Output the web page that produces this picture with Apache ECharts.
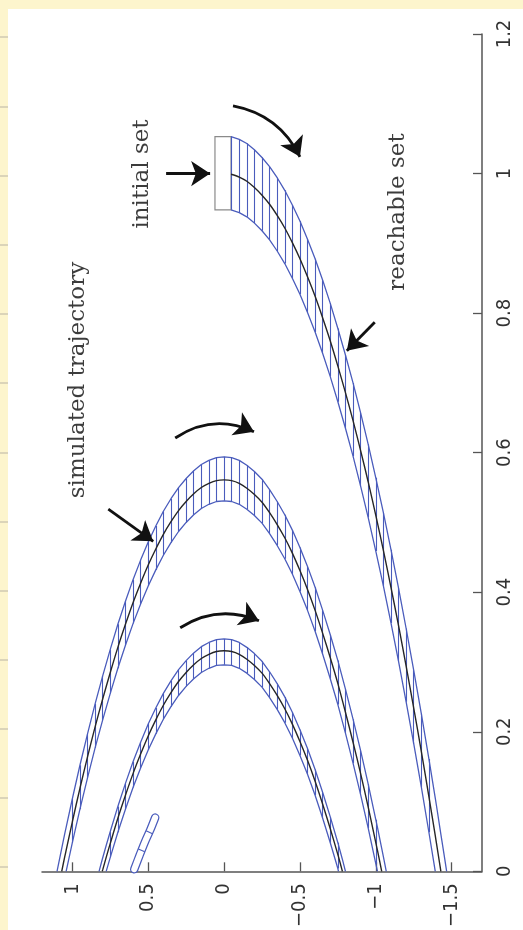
<!DOCTYPE html>
<html>
<head>
<meta charset="utf-8">
<script src="https://cdn.jsdelivr.net/npm/echarts@6/dist/echarts.min.js"></script>
<style>
html, body { margin: 0; padding: 0; background: #fff; }
#chart { width: 523px; height: 930px; }
</style>
</head>
<body>
<div id="chart"></div>
<script>
// rows: [u, inner edge, centre trajectory, outer edge]; u is the bottom axis, v the right axis
const band1 = [
	[-0.046, 0.948, 0.999, 1.053], [-0.10, 0.944, 0.995, 1.049], [-0.15, 0.938, 0.989, 1.043],
	[-0.20, 0.929, 0.980, 1.034], [-0.25, 0.918, 0.969, 1.023], [-0.30, 0.905, 0.956, 1.010],
	[-0.35, 0.889, 0.940, 0.994], [-0.40, 0.871, 0.922, 0.976], [-0.45, 0.850, 0.901, 0.955],
	[-0.50, 0.827, 0.878, 0.932], [-0.55, 0.801, 0.852, 0.906], [-0.60, 0.773, 0.824, 0.878],
	[-0.65, 0.742, 0.793, 0.847], [-0.70, 0.709, 0.760, 0.814], [-0.75, 0.673, 0.724, 0.778],
	[-0.80, 0.635, 0.686, 0.740], [-0.85, 0.595, 0.646, 0.700], [-0.90, 0.552, 0.603, 0.657],
	[-0.95, 0.507, 0.558, 0.612], [-1.00, 0.459, 0.510, 0.564], [-1.05, 0.409, 0.460, 0.514],
	[-1.10, 0.356, 0.407, 0.461], [-1.15, 0.301, 0.352, 0.406], [-1.20, 0.243, 0.294, 0.348],
	[-1.25, 0.183, 0.234, 0.288], [-1.30, 0.121, 0.172, 0.226], [-1.35, 0.056, 0.107, 0.161],
	[-1.392, 0, 0.051, 0.105], [-1.40, null, 0.040, 0.094], [-1.429, null, 0, 0.053],
	[-1.45, null, null, 0.024], [-1.467, null, null, 0]
];
const band2 = [
	[1.101, null, null, 0], [1.07, null, 0, 0.033], [1.05, null, 0.021, 0.054],
	[1.041, 0, 0.030, 0.063], [1.00, 0.041, 0.071, 0.104], [0.95, 0.089, 0.119, 0.152],
	[0.90, 0.134, 0.164, 0.197], [0.85, 0.177, 0.207, 0.240], [0.80, 0.217, 0.247, 0.280],
	[0.75, 0.255, 0.285, 0.318], [0.70, 0.291, 0.321, 0.354], [0.65, 0.324, 0.354, 0.387],
	[0.60, 0.355, 0.385, 0.418], [0.55, 0.383, 0.413, 0.446], [0.50, 0.409, 0.439, 0.472],
	[0.45, 0.432, 0.462, 0.495], [0.40, 0.453, 0.483, 0.516], [0.35, 0.471, 0.501, 0.534],
	[0.30, 0.487, 0.517, 0.550], [0.25, 0.500, 0.530, 0.563], [0.20, 0.511, 0.541, 0.574],
	[0.15, 0.520, 0.550, 0.583], [0.10, 0.526, 0.556, 0.589], [0.05, 0.530, 0.560, 0.593],
	[0.00, 0.531, 0.561, 0.594], [-0.05, 0.530, 0.560, 0.593], [-0.10, 0.526, 0.556, 0.589],
	[-0.15, 0.519, 0.549, 0.582], [-0.20, 0.510, 0.540, 0.573], [-0.25, 0.499, 0.529, 0.562],
	[-0.30, 0.484, 0.514, 0.547], [-0.35, 0.467, 0.497, 0.530], [-0.40, 0.448, 0.478, 0.511],
	[-0.45, 0.426, 0.456, 0.489], [-0.50, 0.401, 0.431, 0.464], [-0.55, 0.374, 0.404, 0.437],
	[-0.60, 0.344, 0.374, 0.407], [-0.65, 0.311, 0.341, 0.374], [-0.70, 0.276, 0.306, 0.339],
	[-0.75, 0.239, 0.269, 0.302], [-0.80, 0.198, 0.228, 0.261], [-0.85, 0.155, 0.185, 0.218],
	[-0.90, 0.110, 0.140, 0.173], [-0.95, 0.062, 0.092, 0.125], [-1.00, 0.011, 0.041, 0.074],
	[-1.011, 0, 0.030, 0.063], [-1.039, null, 0, 0.033], [-1.05, null, null, 0.021],
	[-1.069, null, null, 0]
];
const band3 = [
	[0.824, null, null, 0], [0.803, null, 0, 0.017], [0.80, null, 0.002, 0.019],
	[0.777, 0, 0.020, 0.037], [0.75, 0.020, 0.040, 0.057], [0.70, 0.056, 0.076, 0.093],
	[0.65, 0.089, 0.109, 0.126], [0.60, 0.120, 0.140, 0.157], [0.55, 0.148, 0.168, 0.185],
	[0.50, 0.174, 0.194, 0.211], [0.45, 0.197, 0.217, 0.234], [0.40, 0.218, 0.238, 0.255],
	[0.35, 0.236, 0.256, 0.273], [0.30, 0.252, 0.272, 0.289], [0.25, 0.265, 0.285, 0.302],
	[0.20, 0.276, 0.296, 0.313], [0.15, 0.285, 0.305, 0.322], [0.10, 0.291, 0.311, 0.328],
	[0.05, 0.295, 0.315, 0.332], [0.00, 0.296, 0.316, 0.333], [-0.05, 0.295, 0.315, 0.332],
	[-0.10, 0.291, 0.311, 0.328], [-0.15, 0.284, 0.304, 0.321], [-0.20, 0.275, 0.295, 0.312],
	[-0.25, 0.264, 0.284, 0.301], [-0.30, 0.249, 0.269, 0.286], [-0.35, 0.232, 0.252, 0.269],
	[-0.40, 0.213, 0.233, 0.250], [-0.45, 0.191, 0.211, 0.228], [-0.50, 0.166, 0.186, 0.203],
	[-0.55, 0.139, 0.159, 0.176], [-0.60, 0.109, 0.129, 0.146], [-0.65, 0.076, 0.096, 0.113],
	[-0.70, 0.041, 0.061, 0.078], [-0.75, 0.004, 0.024, 0.041], [-0.754, 0, 0.021, 0.038],
	[-0.78, null, 0, 0.017], [-0.80, null, null, 0]
];
// last, cut-off piece of the fourth bounce
const band4 = [[0.592, 0.003], [0.555, 0.024], [0.52, 0.043], [0.487, 0.059], [0.454, 0.077]];
const band4Rungs = [
	[[0.514, 0.058], [0.472, 0.054]],
	[[0.565, 0.032], [0.523, 0.028]]
];
// initial set box: [u left, v top, u right, v bottom]
const initialSet = [0.06, 1.053, -0.046, 0.948];

// annotation arrows: start, tip, curveness
const arrows = [
	[[-0.059, 1.097], [-0.50, 1.024], 0.25],
	[[0.382, 1.0], [0.092, 1.0], 0],
	[[-0.993, 0.787], [-0.809, 0.746], 0],
	[[0.322, 0.621], [-0.197, 0.630], 0.28],
	[[0.763, 0.519], [0.467, 0.473], 0],
	[[0.289, 0.349], [-0.230, 0.359], 0.26]
];

const xTicks = [-1.5, -1, -0.5, 0, 0.5, 1];

const BLUE = '#4a5cbc';
const tickFont = "'Liberation Sans Narrow', 'DejaVu Sans Condensed', sans-serif";
const textFont = "'DejaVu Serif', serif";

function column(rows, idx) {
	return rows.filter(r => r[idx] != null).map(r => [r[0], r[idx]]);
}
function hatches(rows) {
	return rows.filter(r => r[1] != null && r[1] > 0).map(r => ({ coords: [[r[0], r[1]], [r[0], r[3]]] }));
}
function minus(v) {
	return v < 0 ? '\u2212' + Math.abs(v) : String(v);
}

let series = [];
let allHatch = [].concat(hatches(band1), hatches(band2), hatches(band3));
series.push({
	type: 'lines', coordinateSystem: 'cartesian2d', z: 3,
	lineStyle: { color: BLUE, width: 1.1, opacity: 1 },
	data: allHatch
});
[band1, band2, band3].forEach((b, i) => {
	let inner = {
		type: 'line', data: column(b, 1), showSymbol: false, symbol: 'none', z: 4,
		lineStyle: { color: BLUE, width: 1.3 }
	};
	if (i === 0) {
		inner.markArea = {
			silent: true,
			itemStyle: { color: '#fff', borderColor: '#8a8a8a', borderWidth: 1.2 },
			data: [[{ coord: [initialSet[0], initialSet[1]] }, { coord: [initialSet[2], initialSet[3]] }]]
		};
	}
	series.push(inner);
	series.push({
		type: 'line', data: column(b, 3), showSymbol: false, symbol: 'none', z: 4,
		lineStyle: { color: BLUE, width: 1.3 }
	});
	series.push({
		type: 'line', data: column(b, 2), showSymbol: false, symbol: 'none', z: 5, smooth: 0.3,
		lineStyle: { color: '#262626', width: 1.4 }
	});
});
series.push({
	type: 'line', data: band4, showSymbol: false, symbol: 'none', z: 4, smooth: 0.3,
	lineStyle: { color: BLUE, width: 8.5, cap: 'round' }
});
series.push({
	type: 'line', data: band4, showSymbol: false, symbol: 'none', z: 4, smooth: 0.3,
	lineStyle: { color: '#fff', width: 6, cap: 'round' }
});
series.push({
	type: 'lines', coordinateSystem: 'cartesian2d', z: 5,
	lineStyle: { color: BLUE, width: 1.1, opacity: 1 },
	data: band4Rungs.map(r => ({ coords: r }))
});
series.push({
	type: 'lines', coordinateSystem: 'cartesian2d', z: 6,
	symbol: ['none', 'arrow'], symbolSize: 19,
	lineStyle: { color: '#111', width: 2.8, opacity: 1 },
	itemStyle: { color: '#111' },
	data: arrows.map(a => ({ coords: [a[0], a[1]], lineStyle: { curveness: a[2] } }))
});

let stripLines = [37, 107, 176, 245, 314, 383, 453, 522, 591, 660, 729, 798, 867];
let graphic = [
	{ type: 'rect', shape: { x: 0, y: 0, width: 523, height: 9 }, style: { fill: '#fdf5cd' } },
	{ type: 'rect', shape: { x: 0, y: 0, width: 8, height: 930 }, style: { fill: '#fdf5cd' } }
];
stripLines.forEach(y => graphic.push({
	type: 'line', shape: { x1: 0, y1: y, x2: 8, y2: y }, style: { stroke: '#b9b3a4', lineWidth: 1 }
}));
[['simulated trajectory', 78, 380], ['initial set', 142, 174], ['reachable set', 398, 212]].forEach(t => graphic.push({
	type: 'text', x: t[1], y: t[2], rotation: Math.PI / 2,
	style: { text: t[0], font: '23px ' + textFont, fill: '#3c3c3c', align: 'center', verticalAlign: 'middle' }
}));

let chart = echarts.init(document.getElementById('chart'));
chart.setOption({
	animation: false,
	backgroundColor: '#fff',
	grid: { left: 42, right: 41, top: 34, bottom: 56 },
	xAxis: {
		type: 'value', min: -1.7, max: 1.2, inverse: true, position: 'bottom',
		splitLine: { show: false },
		axisLine: { onZero: false, lineStyle: { color: '#555', width: 1.5 } },
		axisTick: { inside: true, length: 9, customValues: xTicks, lineStyle: { color: '#555', width: 1.3 } },
		axisLabel: {
			customValues: xTicks, rotate: 90, margin: 12, color: '#333',
			fontFamily: tickFont, fontSize: 20, formatter: minus
		}
	},
	yAxis: {
		type: 'value', min: 0, max: 1.2, interval: 0.2, position: 'right',
		splitLine: { show: false },
		axisLine: { show: true, onZero: false, lineStyle: { color: '#555', width: 1.5 } },
		axisTick: { show: true, inside: true, length: 9, lineStyle: { color: '#555', width: 1.3 } },
		axisLabel: { rotate: 90, margin: 13, color: '#333', fontFamily: tickFont, fontSize: 20 }
	},
	graphic: graphic,
	series: series
});
</script>
</body>
</html>
